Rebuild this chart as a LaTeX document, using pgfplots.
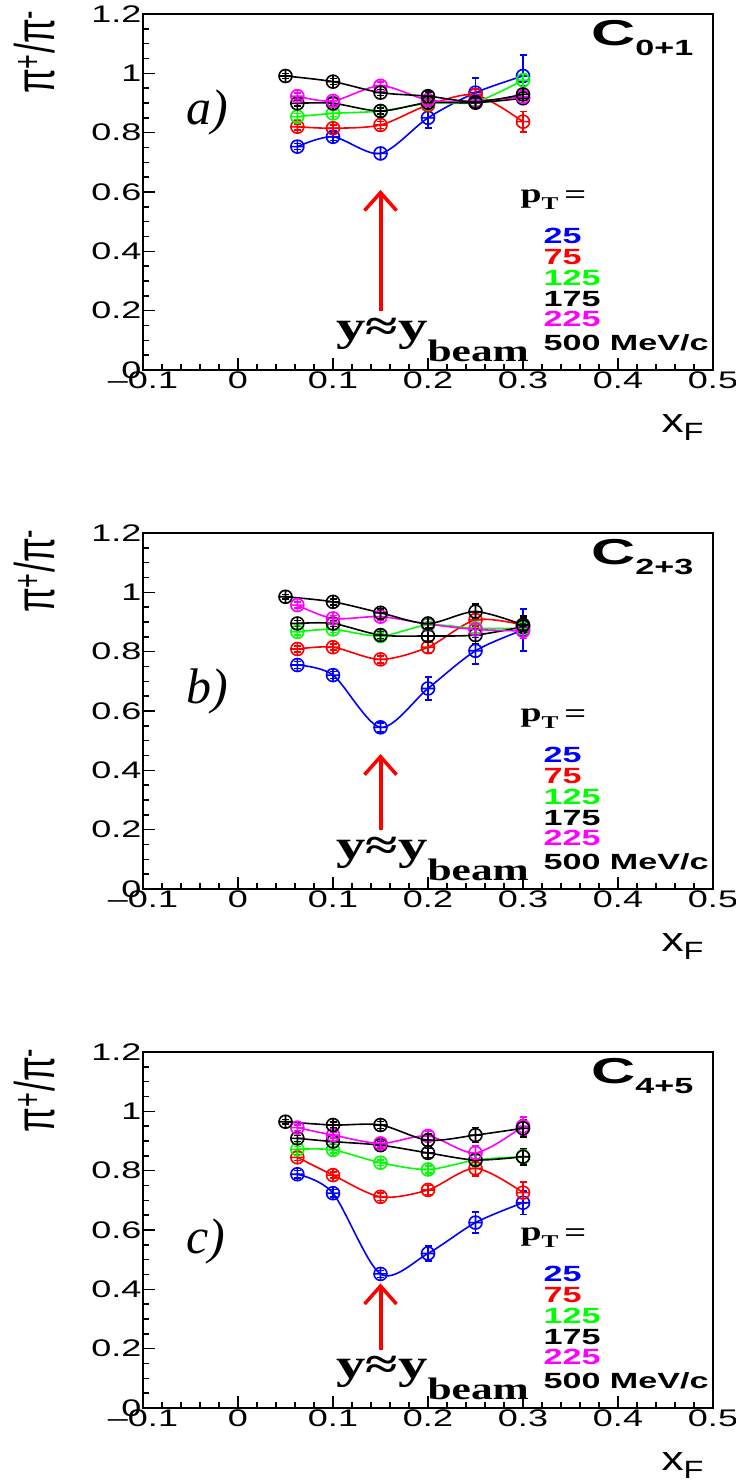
\documentclass[border=0pt]{standalone}
\usepackage{pgfplots}
\pgfplotsset{compat=1.18}
\usetikzlibrary{arrows.meta}
\usepackage{fontspec}
\setmainfont{Liberation Sans}
\newfontfamily\tickfont[FakeStretch=1.5]{Liberation Sans}
\newfontfamily\legfont[FakeStretch=1.55]{Liberation Sans}
\newfontfamily\cfont[FakeStretch=1.7]{Liberation Sans}
\newfontfamily\xfont[FakeStretch=1.3]{Liberation Sans}
\newfontfamily\serbold[FakeStretch=1.4]{Liberation Serif}
\newfontfamily\serit{Liberation Serif}
\definecolor{rblue}{RGB}{0,0,255}
\definecolor{rred}{RGB}{255,0,0}
\definecolor{rgreen}{RGB}{0,255,0}
\definecolor{rmag}{RGB}{255,0,255}

\pgfplotsset{
  panel/.style={
    width=570pt, height=356pt, scale only axis,
    xmin=-0.1, xmax=0.5, ymin=0, ymax=1.2,
    xtick={-0.1,0,0.1,0.2,0.3,0.4,0.5},
    xticklabels={–0.1,0,0.1,0.2,0.3,0.4,0.5},
    ytick={0,0.2,0.4,0.6,0.8,1,1.2},
    yticklabels={0,0.2,0.4,0.6,0.8,1,1.2},
    minor x tick num=4, minor y tick num=3,
    tick align=inside, tick pos=left,
    major tick length=12pt, minor tick length=6pt,
    axis line style={line width=1.6pt},
    every tick/.style={black, line width=1.4pt},
    tick label style={font=\fontsize{24}{24}\tickfont},
    xticklabel style={yshift=2pt},
    yticklabel style={xshift=2pt},
    ylabel={\scalebox{1}[1.55]{\fontsize{36}{36}\selectfont π\textsuperscript{+}/π\textsuperscript{-}}},
    ylabel style={at={(axis description cs:-0.19,0.893)}, anchor=center},
    xlabel={\fontsize{34}{34}\xfont x\raisebox{-8pt}{\fontsize{25}{25}\selectfont F}},
    xlabel style={at={(axis description cs:0.9895,-0.175)}, anchor=base east},
    clip=false,
  },
  ser/.style={color=#1, line width=1.6pt, smooth, tension=0.5,
    mark=oplus, mark size=6.5pt, mark options={solid, line width=1.6pt, fill=none},
    error bars/.cd, y dir=both, y explicit,
    error bar style={line width=1.6pt},
    error mark options={rotate=90, mark size=3.5pt, line width=1.6pt}},
}
\newcommand{\panelnotes}[1]{%
  \node[anchor=base west] at (axis cs:0.2937,0.566) {\fontsize{27}{27}\serbold\bfseries p\raisebox{-7pt}{\fontsize{18}{18}\selectfont T}\hspace{6pt}{\fontsize{24}{24}\legfont\mdseries =}};
  \node[anchor=base west, text=rblue] at (axis cs:0.318,0.427) {\fontsize{22}{22}\legfont\bfseries 25};
  \node[anchor=base west, text=rred] at (axis cs:0.318,0.356) {\fontsize{22}{22}\legfont\bfseries 75};
  \node[anchor=base west, text=rgreen] at (axis cs:0.318,0.286) {\fontsize{22}{22}\legfont\bfseries 125};
  \node[anchor=base west, text=black] at (axis cs:0.318,0.213) {\fontsize{22}{22}\legfont\bfseries 175};
  \node[anchor=base west, text=rmag] at (axis cs:0.318,0.146) {\fontsize{22}{22}\legfont\bfseries 225};
  \node[anchor=base west, text=black] at (axis cs:0.318,0.067) {\fontsize{22}{22}\legfont\bfseries 500 MeV/c};
  \node[anchor=base west] at (axis cs:0.10,0.101) {\fontsize{42}{42}\serbold\bfseries y≈y\raisebox{-21pt}{\fontsize{31}{31}\selectfont beam}};
  \node[anchor=base east] at (axis cs:0.483,1.095) {\fontsize{36}{36}\cfont\bfseries C\raisebox{-10pt}{\fontsize{22}{22}\legfont\bfseries #1}};
}

\begin{document}
\begin{tikzpicture}
\useasboundingbox (0,0) rectangle (736pt,-1484pt);

% ---------------- panel a ----------------
\begin{axis}[panel, at={(143pt,-370pt)}, anchor=south west]
\addplot[ser=rblue] table[row sep=\\, y error index=2] {x y e\\ 0.0625 0.753 0.010\\ 0.1 0.786 0.012\\ 0.15 0.730 0.020\\ 0.2 0.850 0.035\\ 0.25 0.935 0.050\\ 0.3 0.991 0.070\\};
\addplot[ser=rred] table[row sep=\\, y error index=2] {x y e\\ 0.0625 0.820 0.010\\ 0.1 0.815 0.010\\ 0.15 0.826 0.012\\ 0.2 0.893 0.015\\ 0.25 0.927 0.020\\ 0.3 0.837 0.035\\};
\addplot[ser=rgreen] table[row sep=\\, y error index=2] {x y e\\ 0.0625 0.854 0.010\\ 0.1 0.865 0.010\\ 0.15 0.873 0.010\\ 0.2 0.899 0.012\\ 0.25 0.904 0.015\\ 0.3 0.977 0.020\\};
\addplot[ser=black] table[row sep=\\, y error index=2] {x y e\\ 0.0625 0.899 0.010\\ 0.1 0.899 0.010\\ 0.15 0.873 0.010\\ 0.2 0.901 0.012\\ 0.25 0.901 0.020\\ 0.3 0.916 0.020\\};
\addplot[ser=rmag] table[row sep=\\, y error index=2] {x y e\\ 0.0625 0.923 0.010\\ 0.1 0.907 0.010\\ 0.15 0.958 0.012\\ 0.2 0.910 0.015\\ 0.25 0.907 0.020\\ 0.3 0.921 0.025\\};
\addplot[ser=black] table[row sep=\\, y error index=2] {x y e\\ 0.05 0.991 0.008\\ 0.1 0.972 0.010\\ 0.15 0.935 0.010\\ 0.2 0.923 0.015\\ 0.25 0.904 0.020\\ 0.3 0.929 0.030\\};
\draw[rred, line width=4pt, -{Straight Barb[length=18pt,width=32pt,line width=3.5pt]}] (axis cs:0.15,0.2) -- (axis cs:0.15,0.607);
\node[anchor=base west] at (axis cs:-0.058,0.826) {\fontsize{50}{50}\serit\itshape a)};
\panelnotes{0+1}
\end{axis}

% ---------------- panel b ----------------
\begin{axis}[panel, at={(143pt,-889pt)}, anchor=south west]
\addplot[ser=rblue] table[row sep=\\, y error index=2] {x y e\\ 0.0625 0.755 0.012\\ 0.1 0.721 0.012\\ 0.15 0.545 0.015\\ 0.2 0.676 0.038\\ 0.25 0.803 0.045\\ 0.3 0.873 0.070\\};
\addplot[ser=rred] table[row sep=\\, y error index=2] {x y e\\ 0.0625 0.809 0.010\\ 0.1 0.815 0.010\\ 0.15 0.774 0.012\\ 0.2 0.815 0.020\\ 0.25 0.907 0.025\\ 0.3 0.890 0.030\\};
\addplot[ser=rgreen] table[row sep=\\, y error index=2] {x y e\\ 0.0625 0.867 0.010\\ 0.1 0.875 0.010\\ 0.15 0.853 0.010\\ 0.2 0.890 0.012\\ 0.25 0.879 0.015\\ 0.3 0.879 0.020\\};
\addplot[ser=black] table[row sep=\\, y error index=2] {x y e\\ 0.0625 0.895 0.010\\ 0.1 0.895 0.010\\ 0.15 0.856 0.012\\ 0.2 0.853 0.015\\ 0.25 0.856 0.030\\ 0.3 0.884 0.030\\};
\addplot[ser=rmag] table[row sep=\\, y error index=2] {x y e\\ 0.0625 0.957 0.010\\ 0.1 0.912 0.010\\ 0.15 0.918 0.012\\ 0.2 0.893 0.015\\ 0.25 0.875 0.020\\ 0.3 0.870 0.025\\};
\addplot[ser=black] table[row sep=\\, y error index=2] {x y e\\ 0.05 0.985 0.008\\ 0.1 0.968 0.010\\ 0.15 0.931 0.012\\ 0.2 0.895 0.015\\ 0.25 0.935 0.025\\ 0.3 0.890 0.030\\};
\draw[rred, line width=4pt, -{Straight Barb[length=18pt,width=32pt,line width=3.5pt]}] (axis cs:0.15,0.2) -- (axis cs:0.15,0.455);
\node[anchor=base west] at (axis cs:-0.058,0.627) {\fontsize{50}{50}\serit\itshape b)};
\panelnotes{2+3}
\end{axis}

% ---------------- panel c ----------------
\begin{axis}[panel, at={(143pt,-1408pt)}, anchor=south west]
\addplot[ser=rblue] table[row sep=\\, y error index=2] {x y e\\ 0.0625 0.788 0.012\\ 0.1 0.724 0.012\\ 0.15 0.452 0.012\\ 0.2 0.521 0.025\\ 0.25 0.625 0.035\\ 0.3 0.692 0.040\\};
\addplot[ser=rred] table[row sep=\\, y error index=2] {x y e\\ 0.0625 0.845 0.010\\ 0.1 0.785 0.010\\ 0.15 0.712 0.012\\ 0.2 0.735 0.015\\ 0.25 0.808 0.025\\ 0.3 0.726 0.035\\};
\addplot[ser=rgreen] table[row sep=\\, y error index=2] {x y e\\ 0.0625 0.872 0.010\\ 0.1 0.870 0.010\\ 0.15 0.827 0.010\\ 0.2 0.804 0.012\\ 0.25 0.836 0.015\\ 0.3 0.847 0.025\\};
\addplot[ser=black] table[row sep=\\, y error index=2] {x y e\\ 0.0625 0.909 0.010\\ 0.1 0.898 0.010\\ 0.15 0.886 0.012\\ 0.2 0.860 0.015\\ 0.25 0.836 0.020\\ 0.3 0.847 0.028\\};
\addplot[ser=rmag] table[row sep=\\, y error index=2] {x y e\\ 0.0625 0.945 0.010\\ 0.1 0.920 0.010\\ 0.15 0.892 0.012\\ 0.2 0.917 0.015\\ 0.25 0.860 0.025\\ 0.3 0.950 0.030\\};
\addplot[ser=black] table[row sep=\\, y error index=2] {x y e\\ 0.05 0.965 0.008\\ 0.1 0.954 0.010\\ 0.15 0.954 0.012\\ 0.2 0.903 0.020\\ 0.25 0.920 0.025\\ 0.3 0.943 0.030\\};
\draw[rred, line width=4pt, -{Straight Barb[length=18pt,width=32pt,line width=3.5pt]}] (axis cs:0.15,0.195) -- (axis cs:0.15,0.42);
\node[anchor=base west] at (axis cs:-0.058,0.522) {\fontsize{50}{50}\serit\itshape c)};
\panelnotes{4+5}
\end{axis}
\end{tikzpicture}
\end{document}
